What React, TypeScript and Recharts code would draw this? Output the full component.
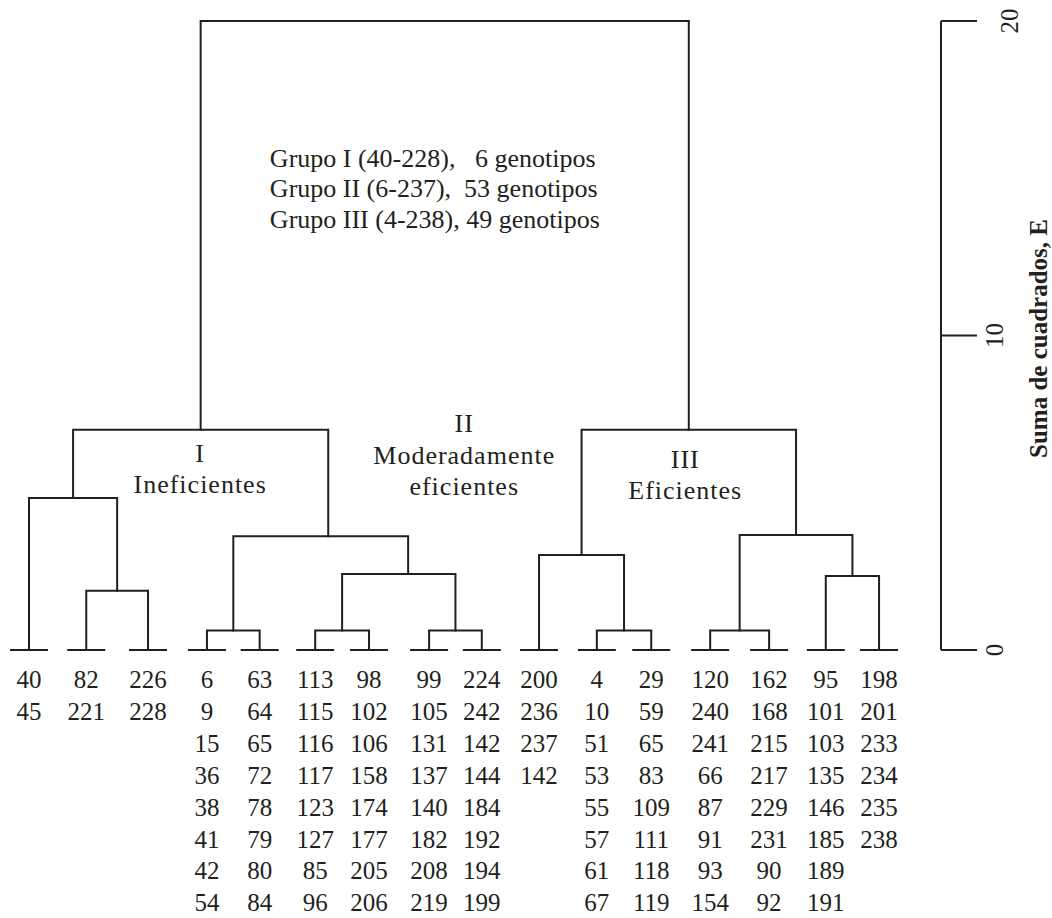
import React from 'react';
import { ComposedChart, Line, XAxis, YAxis, Scatter, Label } from 'recharts';

// ---------- data ----------
// leaf order positions along the horizontal axis (leaf units)
const leafPositions = [0, 1.01, 2.1, 3.14, 4.07, 5.05, 6.0, 7.06, 7.99, 9.0, 10.02, 10.98, 12.02, 13.06, 14.06, 15.0];

// genotypes listed under every leaf
const leafMembers: number[][] = [
  [40, 45],
  [82, 221],
  [226, 228],
  [6, 9, 15, 36, 38, 41, 42, 54],
  [63, 64, 65, 72, 78, 79, 80, 84],
  [113, 115, 116, 117, 123, 127, 85, 96],
  [98, 102, 106, 158, 174, 177, 205, 206],
  [99, 105, 131, 137, 140, 182, 208, 219],
  [224, 242, 142, 144, 184, 192, 194, 199],
  [200, 236, 237, 142],
  [4, 10, 51, 53, 55, 57, 61, 67],
  [29, 59, 65, 83, 109, 111, 118, 119],
  [120, 240, 241, 66, 87, 91, 93, 154],
  [162, 168, 215, 217, 229, 231, 90, 92],
  [95, 101, 103, 135, 146, 185, 189, 191],
  [198, 201, 233, 234, 235, 238],
];

// merges: [node, left child, right child, height (suma de cuadrados), optional drawn position]
const merges: [string, string, string, number, number?][] = [
  ['A', 'L1', 'L2', 1.88],
  ['B', 'L0', 'A', 4.83],
  ['C', 'L3', 'L4', 0.62],
  ['D', 'L5', 'L6', 0.62],
  ['E', 'L7', 'L8', 0.62],
  ['F', 'D', 'E', 2.42, 6.69],
  ['G', 'C', 'F', 3.62, 5.28],
  ['H', 'B', 'G', 7.0],
  ['I', 'L10', 'L11', 0.62],
  ['J', 'L9', 'I', 3.02],
  ['K', 'L12', 'L13', 0.62],
  ['L', 'L14', 'L15', 2.35],
  ['M', 'K', 'L', 3.66],
  ['N', 'J', 'M', 7.0],
  ['R', 'H', 'N', 20.0],
];

const yTicks = [0, 10, 20];
const yTitle = 'Suma de cuadrados, E';

const groupLines = [
  'Grupo I (40-228),\u00a0\u00a0 6 genotipos',
  'Grupo II (6-237),\u00a0 53 genotipos',
  'Grupo III (4-238), 49 genotipos',
];
const clusterNames = [
  { x: 3.02, y: 5.98, lines: ['I', 'Ineficientes'] },
  { x: 7.68, y: 6.93, lines: ['II', 'Moderadamente', 'eficientes'] },
  { x: 11.58, y: 5.79, lines: ['III', 'Eficientes'] },
];
const groupNote = [{ x: 4.25, y: 15.36, lines: groupLines }];

// ---------- styles ----------
const INK = '#231f20';
const FONT = "'Liberation Serif', 'Times New Roman', serif";
const BAR_HALF = 0.335;

// ---------- build link paths from the merge table ----------
const nodePos: Record<string, number> = {};
const nodeH: Record<string, number> = {};
leafPositions.forEach((p, i) => {
  nodePos['L' + i] = p;
  nodeH['L' + i] = 0;
});
const links: { id: string; pts: { x: number; y: number }[] }[] = [];
merges.forEach(([id, l, r, h, at]) => {
  const xl = nodePos[l];
  const xr = nodePos[r];
  nodePos[id] = at !== undefined ? at : (xl + xr) / 2;
  nodeH[id] = h;
  links.push({
    id,
    pts: [
      { x: xl, y: nodeH[l] },
      { x: xl, y: h },
      { x: xr, y: h },
      { x: xr, y: nodeH[r] },
    ],
  });
});
const leafBars = leafPositions.map((p, i) => ({
  id: 'bar' + i,
  pts: [
    { x: p - BAR_HALF, y: 0 },
    { x: p + BAR_HALF, y: 0 },
  ],
}));

const LeafTick = (props: any) => {
  const { x, y, payload, index } = props;
  let idx = leafPositions.indexOf(payload?.value);
  if (idx < 0) idx = index ?? 0;
  const members = leafMembers[idx] || [];
  return (
    <text x={x} y={y + 38} textAnchor="middle" fontFamily={FONT} fontSize={25} fill={INK}>
      {members.map((m, i) => (
        <tspan key={i} x={x} dy={i === 0 ? 0 : 31.9}>
          {m}
        </tspan>
      ))}
    </text>
  );
};

const ValueTick = (props: any) => {
  const { x, y, payload } = props;
  const bx = x + 26 + (payload.value === 20 ? 15 : 0);
  return (
    <text
      x={bx}
      y={y}
      transform={`rotate(-90 ${bx} ${y})`}
      textAnchor="middle"
      fontFamily={FONT}
      fontSize={25}
      fill={INK}
    >
      {payload.value}
    </text>
  );
};

const YTitle = (props: any) => {
  const vb = props.viewBox || { x: 941, y: 21, width: 111, height: 629 };
  const bx = vb.x + vb.width - 5;
  const by = vb.y + vb.height / 2 + 3;
  return (
    <text
      x={bx}
      y={by}
      transform={`rotate(-90 ${bx} ${by})`}
      textAnchor="middle"
      fontFamily={FONT}
      fontWeight="bold"
      fontSize={25}
      fill={INK}
    >
      {yTitle}
    </text>
  );
};

const CenterText = (props: any) => {
  const { cx, cy, payload } = props;
  return (
    <text x={cx} y={cy} textAnchor="middle" fontFamily={FONT} fontSize={26} letterSpacing={1} fill={INK}>
      {payload.lines.map((s: string, i: number) => (
        <tspan key={i} x={cx} dy={i === 0 ? 0 : 31.5}>
          {s}
        </tspan>
      ))}
    </text>
  );
};

const LeftText = (props: any) => {
  const { cx, cy, payload } = props;
  return (
    <text x={cx} y={cy} textAnchor="start" fontFamily={FONT} fontSize={26} fill={INK}>
      {payload.lines.map((s: string, i: number) => (
        <tspan key={i} x={cx} dy={i === 0 ? 0 : 30.5}>
          {s}
        </tspan>
      ))}
    </text>
  );
};

export default function App() {
  return (
    <div style={{ position: 'absolute', left: 0, top: 0, background: '#fff' }}>
      <ComposedChart width={1052} height={918} margin={{ top: 21, right: 0, bottom: 0, left: 0 }}>
        <XAxis
          type="number"
          dataKey="x"
          domain={[-0.512, 16.093]}
          ticks={leafPositions}
          interval={0}
          axisLine={false}
          tickLine={false}
          tickSize={0}
          tickMargin={0}
          height={268}
          tick={<LeafTick />}
        />
        <YAxis
          orientation="right"
          type="number"
          domain={[0, 20]}
          ticks={yTicks}
          interval={0}
          width={111}
          axisLine={{ stroke: INK, strokeWidth: 2 }}
          tickLine={{ stroke: INK, strokeWidth: 2 }}
          tickSize={36}
          tickMargin={0}
          tick={<ValueTick />}
        >
          <Label content={<YTitle />} />
        </YAxis>
        {links.map((l) => (
          <Line
            key={l.id}
            data={l.pts}
            dataKey="y"
            type="linear"
            stroke={INK}
            strokeWidth={2}
            strokeLinejoin="miter"
            strokeLinecap="square"
            dot={false}
            activeDot={false}
            isAnimationActive={false}
          />
        ))}
        {leafBars.map((l) => (
          <Line
            key={l.id}
            data={l.pts}
            dataKey="y"
            type="linear"
            stroke={INK}
            strokeWidth={2}
            dot={false}
            activeDot={false}
            isAnimationActive={false}
          />
        ))}
        <Scatter data={clusterNames} dataKey="y" shape={<CenterText />} isAnimationActive={false} />
        <Scatter data={groupNote} dataKey="y" shape={<LeftText />} isAnimationActive={false} />
      </ComposedChart>
    </div>
  );
}
